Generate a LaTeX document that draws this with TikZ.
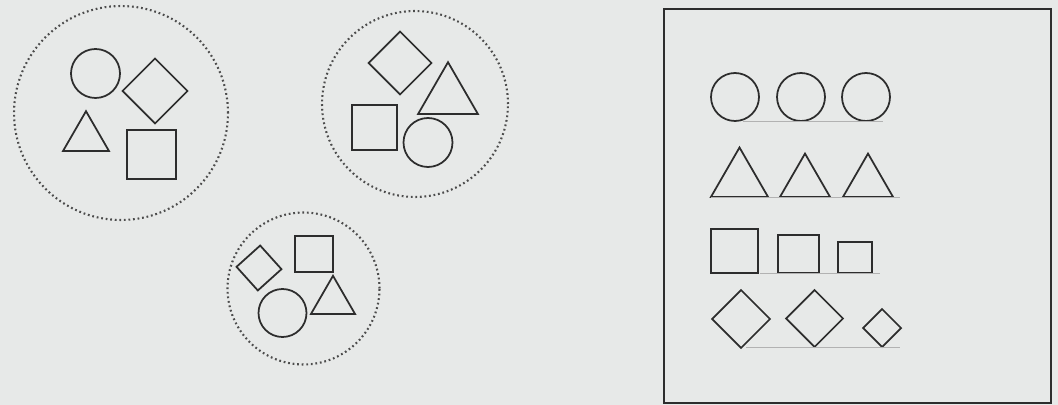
\documentclass[tikz,border=0pt]{standalone}
\usepackage{tikz}
\usetikzlibrary{shapes.geometric, positioning}
\definecolor{papel}{RGB}{231,233,232}
\definecolor{trazo}{RGB}{45,45,45}

\begin{document}
\begin{tikzpicture}[x=0.02cm, y=-0.02cm,
        fig/.style={draw=trazo, line width=1pt, inner sep=0pt, outer sep=0pt},
        circ/.style={fig, circle, minimum size=#1},
        cuad/.style={fig, rectangle, minimum size=#1},
        romb/.style={fig, diamond, minimum size=#1},
        tri/.style={fig, regular polygon, regular polygon sides=3, minimum size=#1},
        grupo/.style={circle, draw=trazo!85, line width=1.2pt, dash pattern=on 1pt off 1.6pt, minimum size=#1, inner sep=0pt},
        base/.style={draw=gray!60, line width=0.5pt}]
        \fill[papel] (0,0) rectangle (1058,405);
        \useasboundingbox (0,0) rectangle (1058,405);
        % conjuntos mezclados
        \node[grupo=4.28cm] (grupoA) at (121,113) {};
        \node[circ=0.98cm] (circA) at (95.5,73.5) {};
        \node[romb=1.3cm] (rombA) at (155,91) {};
        \node[tri=1.06cm] (triA) at (86,137.7) {};
        \node[cuad=0.98cm] (cuadA) at (151.5,154.5) {};
        \node[grupo=3.72cm] (grupoB) at (415,104) {};
        \node[romb=1.26cm] (rombB) at (400,63) {};
        \node[tri=1.38cm] (triB) at (448,96.7) {};
        \node[cuad=0.9cm] (cuadB) at (374.5,127.5) {};
        \node[circ=0.98cm] (circB) at (428,142.5) {};
        \node[grupo=3.04cm] (grupoC) at (303.5,288.5) {};
        \node[romb=0.9cm, rotate=-3] (rombC) at (259,268) {};
        \node[fig, minimum width=0.76cm, minimum height=0.72cm] (cuadC) at (314,254) {};
        \node[circ=0.96cm] (circC) at (282.5,313) {};
        \node[tri=1.02cm] (triC) at (333,301.3) {};
        % clasificacion
        \draw[fig, line width=1.1pt] (664,9) rectangle (1051,403);
        \node[circ=0.96cm] (circ1) at (735,97) {};
        \node[circ=0.96cm] (circ2) at (801,97) {};
        \node[circ=0.96cm] (circ3) at (866,97) {};
        \node[tri=1.32cm] (tri1) at (739.5,180.5) {};
        \node[tri=1.16cm] (tri2) at (805,182.6) {};
        \node[tri=1.16cm] (tri3) at (868,182.6) {};
        \node[fig, minimum width=0.94cm, minimum height=0.88cm] (cuad1) at (734.5,251) {};
        \node[fig, minimum width=0.82cm, minimum height=0.76cm] (cuad2) at (798.5,254) {};
        \node[fig, minimum width=0.68cm, minimum height=0.62cm] (cuad3) at (855,257.5) {};
        \node[romb=1.16cm] (romb1) at (741,319) {};
        \node[romb=1.14cm] (romb2) at (814.5,318.5) {};
        \node[romb=0.76cm] (romb3) at (882,328) {};
        \draw[base] (743,121) -- (883,121);
        \draw[base] (711,197) -- (900,197);
        \draw[base] (760,273) -- (880,273);
        \draw[base] (746,347) -- (900,347);
    \end{tikzpicture}
\end{document}
